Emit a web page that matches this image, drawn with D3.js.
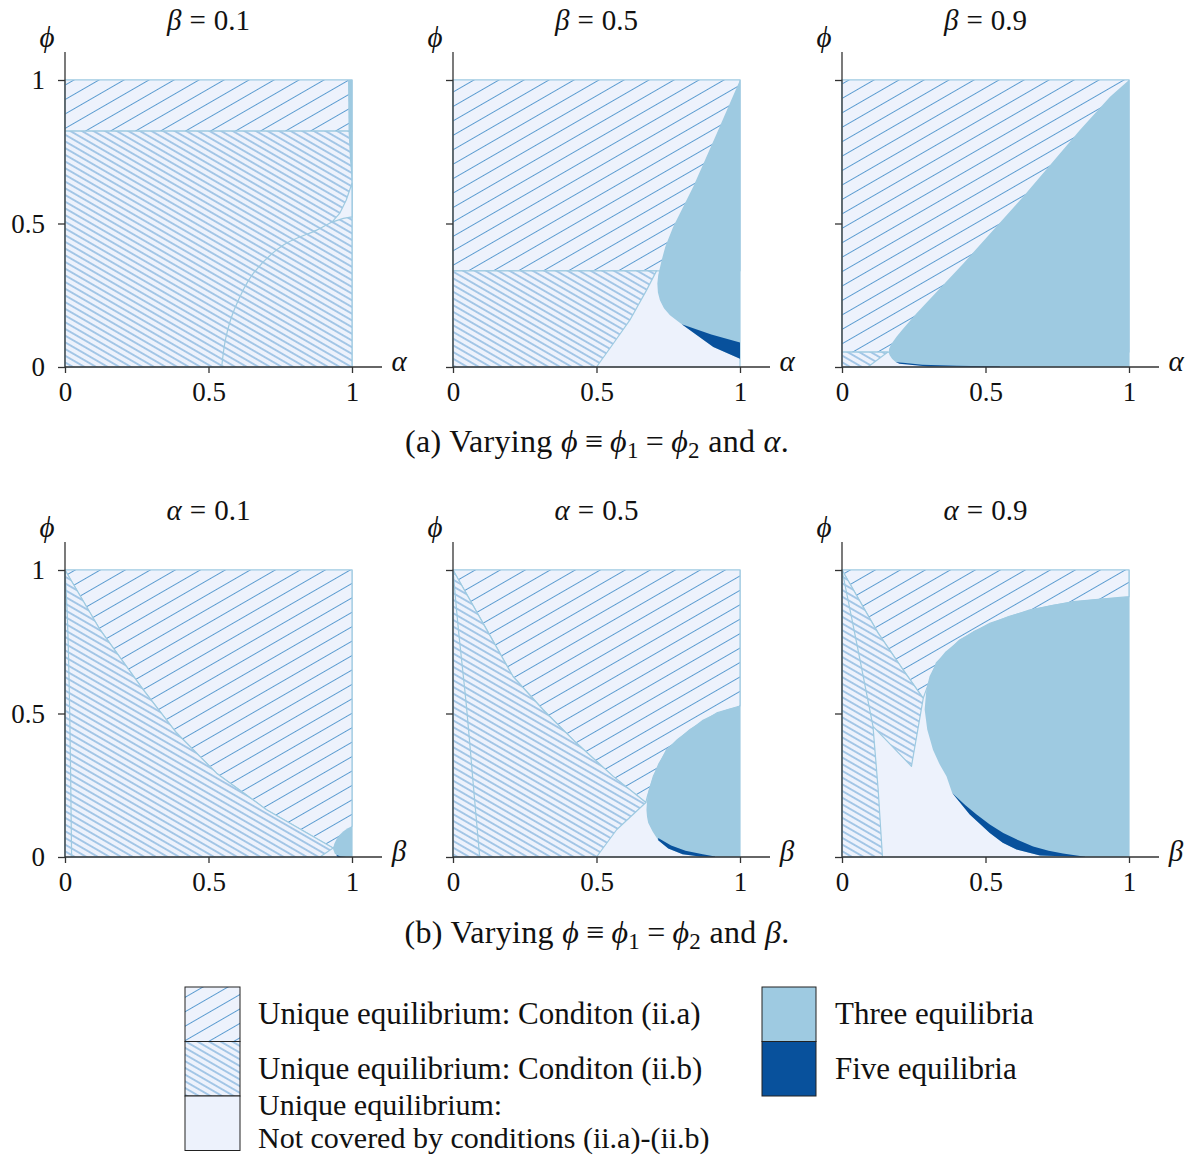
<!DOCTYPE html>
<html>
<head>
<meta charset="utf-8">
<script src="https://cdn.jsdelivr.net/npm/d3@7"></script>
<style>
  body { margin: 0; background: #fff; }
  text { font-family: "Liberation Serif", "Times New Roman", serif; fill: #111; }
</style>
</head>
<body>
<svg id="chart" width="1195" height="1156"></svg>
<script>
// ---- data (region outlines, in data units) ----
var tickValues = [0, 0.5, 1]
var tickLabels = ["0", "0.5", "1"]
var topParams = ["0.1", "0.5", "0.9"]      // beta, top row
var bottomParams = ["0.1", "0.5", "0.9"]   // alpha, bottom row

// (a) beta = 0.1
var a1_iia = [[0, 0.822], [1, 0.822], [1, 1], [0, 1]]
var a1_iib = [[0, 0], [1, 0], [1, 0.822], [0, 0.822]]
var a1_none = [[1, 0.64], [0.98, 0.582], [0.957, 0.535], [0.93, 0.505], [0.97, 0.518], [1, 0.523]]
var a1_curve = [[0.546, 0], [0.56, 0.1], [0.59, 0.2], [0.656, 0.326], [0.761, 0.425], [0.877, 0.477], [0.93, 0.505]]
var a1_three = [[0.986, 1], [1, 1], [1, 0.64], [0.993, 0.72], [0.988, 0.822]]

// (a) beta = 0.5
var a2_iia = [[0, 0.335], [1, 0.335], [1, 1], [0, 1]]
var a2_iib = [[0, 0], [0.5, 0], [0.558, 0.081], [0.616, 0.163], [0.674, 0.267], [0.709, 0.335], [0, 0.335]]
var a2_three = [[1, 1], [0.919, 0.814], [0.837, 0.628], [0.767, 0.488], [0.74, 0.42], [0.727, 0.372], [0.715, 0.32],
                [0.712, 0.291], [0.714, 0.26], [0.721, 0.233], [0.735, 0.205], [0.756, 0.18], [0.797, 0.149],
                [0.907, 0.07], [1, 0.029]]
var a2_five = [[0.797, 0.149], [0.9, 0.113], [1, 0.085], [1, 0.029], [0.907, 0.07]]

// (a) beta = 0.9
var a3_iia = [[0, 0.052], [1, 0.052], [1, 1], [0, 1]]
var a3_iib = [[0, 0], [0.09, 0], [0.16, 0.052], [0, 0.052]]
var a3_three = [[1, 1], [0.934, 0.942], [0.829, 0.826], [0.631, 0.593], [0.422, 0.36], [0.259, 0.186],
                [0.21, 0.13], [0.19, 0.105], [0.172, 0.08], [0.164, 0.064], [0.163, 0.05], [0.166, 0.041],
                [0.175, 0.028], [0.187, 0.017], [0.28, 0.004], [0.55, 0], [1, 0]]
var a3_five = [[0.187, 0.017], [0.28, 0.008], [0.4, 0.004], [0.55, 0.0015], [0.55, 0], [0.3, 0.002], [0.2, 0.011]]

// (b) alpha = 0.1
var b1_iia = [[0, 1], [1, 1], [1, 0.107], [0.934, 0.031], [0.702, 0.165], [0.528, 0.292],
              [0.389, 0.432], [0.273, 0.582], [0.122, 0.792]]
var b1_iib = [[0, 0], [0, 1], [0.122, 0.792], [0.273, 0.582], [0.389, 0.432], [0.528, 0.292],
              [0.702, 0.165], [0.934, 0.031], [0.888, 0]]
var b1_line = [[0, 1], [0.009, 0.814], [0.017, 0.466], [0.023, 0]]
var b1_three = [[0.934, 0.028], [0.938, 0.045], [0.945, 0.06], [0.955, 0.075], [0.969, 0.089], [0.985, 0.1],
                [1, 0.107], [1, 0], [0.955, 0], [0.94, 0.012]]
var b1_five = [[0.945, 0.008], [0.96, 0.002], [0.98, 0], [0.95, 0]]

// (b) alpha = 0.5
var b2_iia = [[0, 1], [1, 1], [1, 0.526], [0.919, 0.502], [0.826, 0.444], [0.744, 0.374], [0.698, 0.281],
              [0.677, 0.21], [0.672, 0.19], [0.558, 0.281], [0.43, 0.397], [0.314, 0.513], [0.209, 0.629], [0.105, 0.814]]
var b2_iib = [[0, 0], [0, 1], [0.105, 0.814], [0.209, 0.629], [0.314, 0.513], [0.43, 0.397], [0.558, 0.281],
              [0.672, 0.19], [0.57, 0.095], [0.5, 0]]
var b2_line = [[0, 1], [0.02, 0.78], [0.047, 0.524], [0.07, 0.26], [0.093, 0]]
var b2_three = [[1, 0.526], [0.96, 0.516], [0.919, 0.502], [0.87, 0.478], [0.826, 0.444], [0.78, 0.41], [0.744, 0.374],
                [0.715, 0.325], [0.698, 0.281], [0.684, 0.24], [0.677, 0.21], [0.674, 0.165], [0.676, 0.14],
                [0.68, 0.119], [0.695, 0.09], [0.715, 0.058], [0.75, 0.03], [0.8, 0.01], [0.86, 0.002], [0.913, 0], [1, 0]]
var b2_five = [[0.715, 0.066], [0.76, 0.04], [0.81, 0.022], [0.87, 0.01], [0.913, 0.002], [0.913, 0],
               [0.86, 0.002], [0.8, 0.01], [0.75, 0.03], [0.715, 0.058]]

// (b) alpha = 0.9
var b3_iia = [[0, 1], [1, 1], [1, 0.907], [0.806, 0.89], [0.655, 0.861], [0.515, 0.814], [0.41, 0.756],
              [0.329, 0.677], [0.294, 0.584], [0.283, 0.553], [0.213, 0.652], [0.126, 0.78]]
var b3_iib = [[0, 1], [0.126, 0.78], [0.213, 0.652], [0.283, 0.553], [0.242, 0.316], [0.108, 0.455],
              [0.126, 0.235], [0.141, 0], [0, 0]]
var b3_line = [[0, 1], [0.056, 0.721], [0.108, 0.455]]
var b3_three = [[1, 0.907], [0.9, 0.9], [0.806, 0.89], [0.73, 0.878], [0.655, 0.861], [0.58, 0.84], [0.515, 0.814],
                [0.46, 0.788], [0.41, 0.756], [0.36, 0.715], [0.329, 0.677], [0.305, 0.63], [0.294, 0.584],
                [0.288, 0.514], [0.297, 0.444], [0.317, 0.374], [0.34, 0.323], [0.364, 0.281], [0.384, 0.223],
                [0.445, 0.148], [0.515, 0.084], [0.56, 0.05], [0.608, 0.026], [0.69, 0.005], [0.847, 0], [1, 0]]
var b3_five = [[0.384, 0.223], [0.43, 0.18], [0.469, 0.148], [0.515, 0.113], [0.562, 0.084], [0.615, 0.058],
               [0.666, 0.037], [0.72, 0.022], [0.77, 0.012], [0.847, 0.001], [0.847, 0], [0.69, 0.005],
               [0.608, 0.026], [0.56, 0.05], [0.515, 0.084], [0.445, 0.148]]

var legendLeft = [["Unique equilibrium: Conditon (ii.a)"], ["Unique equilibrium: Conditon (ii.b)"],
                  ["Unique equilibrium:", "Not covered by conditions (ii.a)-(ii.b)"]]
var legendRight = ["Three equilibria", "Five equilibria"]

// ---- layout / style ----
var size = 287
var colX = [65, 453, 842]
var rowY = [367, 857]
var lightFill = "#edf2fc"
var edgeBlue = "#9ecae1"
var hatchBlue = "#5a9bd0"
var threeFill = "#9ecae1"
var fiveFill = "#08519c"
var axisColor = "#333"

var panels = [
  {row: 0, col: 0, param: "β", value: topParams[0], xName: "α", iia: [a1_iia], iib: [a1_iib], none: [a1_none], lines: [a1_curve], three: [a1_three], five: []},
  {row: 0, col: 1, param: "β", value: topParams[1], xName: "α", iia: [a2_iia], iib: [a2_iib], none: [], lines: [], three: [a2_three], five: [a2_five]},
  {row: 0, col: 2, param: "β", value: topParams[2], xName: "α", iia: [a3_iia], iib: [a3_iib], none: [], lines: [], three: [a3_three], five: [a3_five]},
  {row: 1, col: 0, param: "α", value: bottomParams[0], xName: "β", iia: [b1_iia], iib: [b1_iib], none: [], lines: [b1_line], three: [b1_three], five: [b1_five]},
  {row: 1, col: 1, param: "α", value: bottomParams[1], xName: "β", iia: [b2_iia], iib: [b2_iib], none: [], lines: [b2_line], three: [b2_three], five: [b2_five]},
  {row: 1, col: 2, param: "α", value: bottomParams[2], xName: "β", iia: [b3_iia], iib: [b3_iib], none: [], lines: [b3_line], three: [b3_three], five: [b3_five]}
]

var svg = d3.select("#chart")
var defs = svg.append("defs")

function hatch(id, gap, angle) {
  var p = defs.append("pattern")
    .attr("id", id)
    .attr("patternUnits", "userSpaceOnUse")
    .attr("width", 40)
    .attr("height", gap)
    .attr("patternTransform", "rotate(" + angle + ")")
  p.append("rect").attr("width", 40).attr("height", gap).attr("fill", lightFill)
  p.append("line")
    .attr("x1", 0).attr("x2", 40)
    .attr("y1", gap / 2).attr("y2", gap / 2)
    .attr("stroke", hatchBlue)
    .attr("stroke-width", 1.05)
}
hatch("hatchA", 12.5, -30)
hatch("hatchB", 5.8, 30)

panels.forEach(function(p) {
  var x0 = colX[p.col]
  var y0 = rowY[p.row]
  var x = d3.scaleLinear().domain([0, 1]).range([x0, x0 + size])
  var y = d3.scaleLinear().domain([0, 1]).range([y0, y0 - size])
  var line = d3.line().x(function(d) { return x(d[0]) }).y(function(d) { return y(d[1]) })
  var smooth = d3.line().curve(d3.curveCatmullRom)
    .x(function(d) { return x(d[0]) }).y(function(d) { return y(d[1]) })
  var g = svg.append("g").attr("class", "panel")

  // background: unique equilibrium not covered
  g.append("path")
    .attr("d", line([[0, 0], [1, 0], [1, 1], [0, 1]]) + "Z")
    .attr("fill", lightFill)
    .attr("stroke", edgeBlue)
    .attr("stroke-width", 1.2)

  function regions(list, fill, stroke) {
    g.selectAll(null)
      .data(list)
      .enter()
      .append("path")
      .attr("d", function(d) { return line(d) + "Z" })
      .attr("fill", fill)
      .attr("stroke", stroke)
      .attr("stroke-width", 1.2)
      .attr("stroke-linejoin", "round")
  }
  regions(p.iia, "url(#hatchA)", edgeBlue)
  regions(p.iib, "url(#hatchB)", edgeBlue)
  regions(p.none, lightFill, edgeBlue)

  g.selectAll(null)
    .data(p.lines)
    .enter()
    .append("path")
    .attr("d", function(d) { return smooth(d) })
    .attr("fill", "none")
    .attr("stroke", edgeBlue)
    .attr("stroke-width", 1.2)

  regions(p.three, threeFill, "none")
  regions(p.five, fiveFill, "none")

  // axes
  var yAxis = d3.axisLeft(y).tickValues(tickValues).tickSize(7).tickPadding(13)
    .tickFormat(function(d, i) { return p.col == 0 ? tickLabels[i] : "" })
  var xAxis = d3.axisBottom(x).tickValues(tickValues).tickSize(6).tickPadding(9)
    .tickFormat(function(d, i) { return tickLabels[i] })

  var ya = g.append("g").attr("transform", "translate(" + x0 + ",0)").call(yAxis)
  var xa = g.append("g").attr("transform", "translate(0," + y0 + ")").call(xAxis)
  ;[ya, xa].forEach(function(a) {
    a.select(".domain").remove()
    a.selectAll("line").attr("stroke", axisColor).attr("stroke-width", 1.3)
    a.selectAll("text")
      .attr("fill", "#111")
      .style("font-family", "'Liberation Serif', serif")
      .style("font-size", "27px")
  })

  g.append("line")
    .attr("x1", x0).attr("x2", x0)
    .attr("y1", y0).attr("y2", y0 - size - 28)
    .attr("stroke", axisColor).attr("stroke-width", 1.3)
  g.append("line")
    .attr("x1", x0).attr("x2", x0 + size + 30)
    .attr("y1", y0).attr("y2", y0)
    .attr("stroke", axisColor).attr("stroke-width", 1.3)

  // axis names
  g.append("text")
    .attr("x", x0 - 18).attr("y", y0 - size - 33)
    .attr("text-anchor", "middle")
    .style("font-size", "29px").style("font-style", "italic")
    .text("ϕ")
  g.append("text")
    .attr("x", x0 + size + 47).attr("y", y0 + 4)
    .attr("text-anchor", "middle")
    .style("font-size", "29px").style("font-style", "italic")
    .text(p.xName)

  // panel title
  var t = g.append("text")
    .attr("x", x0 + size / 2).attr("y", y0 - size - 50)
    .attr("text-anchor", "middle")
    .style("font-size", "29px")
  t.append("tspan").style("font-style", "italic").text(p.param)
  t.append("tspan").attr("dx", 8).text("=")
  t.append("tspan").attr("dx", 8).text(p.value)
})

// captions
function caption(yPos, letter, varName) {
  var t = svg.append("text")
    .attr("x", 597).attr("y", yPos)
    .attr("text-anchor", "middle")
    .style("font-size", "32px")
    .style("letter-spacing", "0.3px")
  t.append("tspan").text("(" + letter + ") Varying ")
  t.append("tspan").style("font-style", "italic").text("ϕ")
  t.append("tspan").attr("dx", 7).text("≡")
  t.append("tspan").attr("dx", 7).style("font-style", "italic").text("ϕ")
  t.append("tspan").attr("dy", 6).style("font-size", "23px").text("1")
  t.append("tspan").attr("dy", -6).attr("dx", 7).text("=")
  t.append("tspan").attr("dx", 7).style("font-style", "italic").text("ϕ")
  t.append("tspan").attr("dy", 6).style("font-size", "23px").text("2")
  t.append("tspan").attr("dy", -6).text(" and ")
  t.append("tspan").style("font-style", "italic").text(varName)
  t.append("tspan").text(".")
}
caption(452, "a", "α")
caption(943, "b", "β")

// legend
var boxW = 55
var boxH = 54.5
var legTop = 987
var leftFills = ["url(#hatchA)", "url(#hatchB)", lightFill]
var rightFills = [threeFill, fiveFill]

var legL = svg.append("g").attr("class", "legend")
legendLeft.forEach(function(lines, i) {
  var yTop = legTop + i * boxH
  legL.append("rect")
    .attr("x", 185).attr("y", yTop)
    .attr("width", boxW).attr("height", boxH)
    .attr("fill", leftFills[i])
    .attr("stroke", "#222").attr("stroke-width", 1)
  lines.forEach(function(s, j) {
    var base = lines.length == 1 ? yTop + 37 : yTop + 19 + j * 33
    legL.append("text")
      .attr("x", 258).attr("y", base)
      .style("font-size", lines.length == 1 ? "31px" : "30px")
      .text(s)
  })
})
legendRight.forEach(function(s, i) {
  var yTop = legTop + i * boxH
  legL.append("rect")
    .attr("x", 762).attr("y", yTop)
    .attr("width", boxW - 1).attr("height", boxH)
    .attr("fill", rightFills[i])
    .attr("stroke", "#222").attr("stroke-width", 1)
  legL.append("text")
    .attr("x", 835).attr("y", yTop + 37)
    .style("font-size", "31px")
    .text(s)
})
</script>
</body>
</html>
